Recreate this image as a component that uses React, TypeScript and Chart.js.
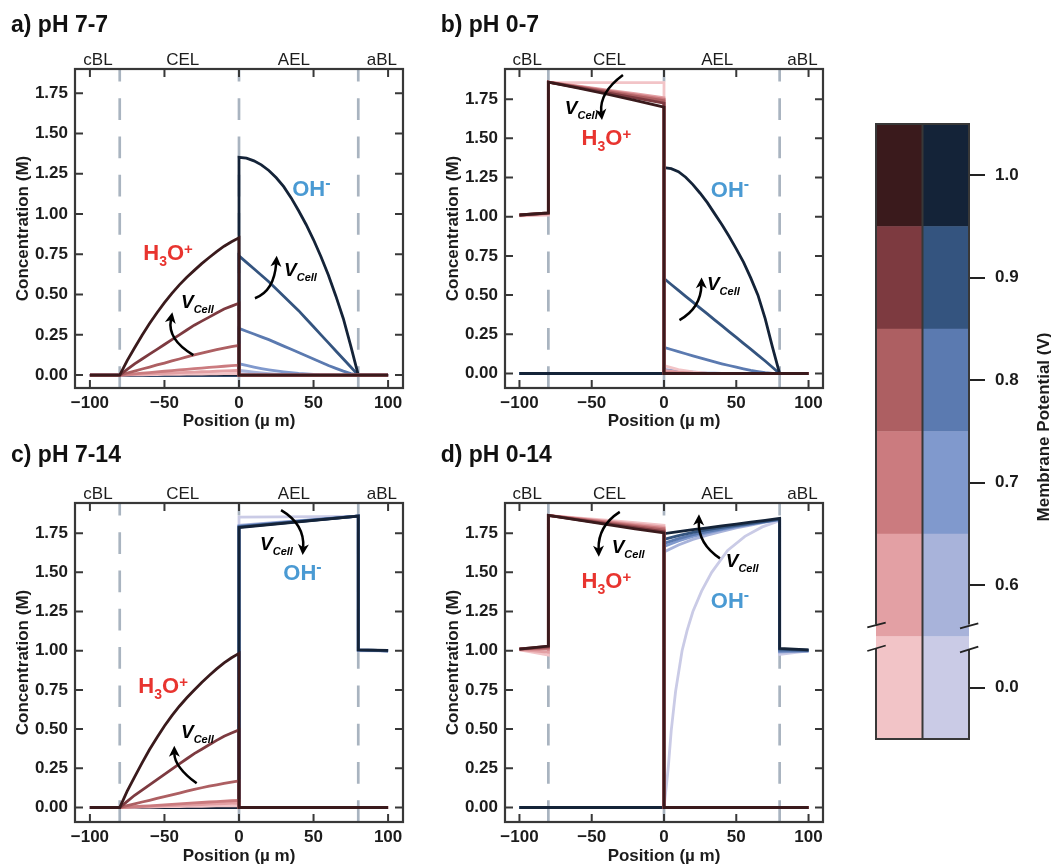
import React, { useEffect, useRef } from 'react';
import { Chart, registerables } from 'chart.js';

Chart.register(...registerables);

const FONT = '"Liberation Sans", Arial, Helvetica, sans-serif';
const INK = '#1c1c1c';
const FRAME = '#383838';
const EDGE_DASH = '#a9b4c0';
const H3O_COLOR = '#e8342f';
const OH_COLOR = '#4a9ad3';

// Membrane potential levels (colour index 0 = lightest)
const V_LABELS = ['0.0', '0.6', '0.7', '0.8', '0.9', '1.0'];
const RED = ['#f2c4c7', '#e3a0a4', '#cb7b7f', '#ad5f62', '#7d3a40', '#3a1a1c'];
const BLUE = ['#cacbe6', '#a8b3da', '#8099cd', '#5b7ab0', '#34547f', '#142338'];
const CB_SPAN = [1, 1];

const X_TICKS = [-100, -50, 0, 50, 100];
const X_TICK_LABELS = ['\u2212100', '\u221250', '0', '50', '100'];
const Y_TICKS = [0, 0.25, 0.5, 0.75, 1, 1.25, 1.5, 1.75];
const Y_TICK_LABELS = ['0.00', '0.25', '0.50', '0.75', '1.00', '1.25', '1.50', '1.75'];
const LAYER_EDGES = [-80, 0, 80];
const LAYER_NAMES = ['cBL', 'CEL', 'AEL', 'aBL'];
const LAYER_NAME_X = [-94.6, -37.7, 36.8, 95.8];

// ---------- a) pH 7-7 ----------
const A_H3O_X = [-100, -80, -75, -70, -65, -60, -55, -50, -45, -40, -35, -30, -25, -20, -15, -10, -5, 0, 0, 100];
const A_H3O = [
  [0, 0, 0.001, 0.001, 0.002, 0.003, 0.003, 0.004, 0.004, 0.005, 0.006, 0.007, 0.007, 0.008, 0.008, 0.009, 0.01, 0.01, 0, 0],
  [0, 0, 0.002, 0.004, 0.006, 0.008, 0.01, 0.011, 0.013, 0.015, 0.017, 0.019, 0.021, 0.022, 0.024, 0.026, 0.028, 0.03, 0, 0],
  [0, 0, 0.004, 0.008, 0.012, 0.016, 0.02, 0.024, 0.028, 0.032, 0.036, 0.04, 0.044, 0.048, 0.051, 0.055, 0.059, 0.062, 0, 0],
  [0, 0, 0.013, 0.025, 0.038, 0.05, 0.063, 0.075, 0.088, 0.1, 0.113, 0.125, 0.137, 0.148, 0.158, 0.168, 0.177, 0.185, 0, 0],
  [0, 0, 0.035, 0.07, 0.1, 0.13, 0.16, 0.19, 0.22, 0.25, 0.28, 0.31, 0.335, 0.36, 0.385, 0.41, 0.428, 0.446, 0, 0],
  [0, 0, 0.09, 0.17, 0.247, 0.32, 0.387, 0.45, 0.507, 0.56, 0.607, 0.65, 0.692, 0.73, 0.767, 0.8, 0.828, 0.852, 0, 0],
];
const A_OH_X = [-100, 0, 0, 5, 10, 15, 20, 25, 30, 35, 40, 45, 50, 55, 60, 65, 70, 75, 80, 100];
const A_OH = [
  [0, 0, 0.01, 0.007, 0.005, 0.003, 0.002, 0.001, 0, 0, 0, 0, 0, 0, 0, 0, 0, 0, 0, 0],
  [0, 0, 0.03, 0.024, 0.018, 0.013, 0.009, 0.006, 0.004, 0.002, 0.001, 0, 0, 0, 0, 0, 0, 0, 0, 0],
  [0, 0, 0.07, 0.06, 0.05, 0.041, 0.033, 0.026, 0.02, 0.015, 0.01, 0.007, 0.004, 0.002, 0.001, 0, 0, 0, 0, 0],
  [0, 0, 0.29, 0.272, 0.255, 0.237, 0.22, 0.2, 0.18, 0.16, 0.14, 0.12, 0.1, 0.08, 0.06, 0.042, 0.025, 0.01, 0, 0],
  [0, 0, 0.74, 0.7, 0.66, 0.62, 0.58, 0.535, 0.49, 0.445, 0.4, 0.35, 0.3, 0.25, 0.2, 0.15, 0.1, 0.05, 0, 0],
  [0, 0, 1.352, 1.347, 1.33, 1.305, 1.27, 1.225, 1.17, 1.1, 1.02, 0.935, 0.84, 0.735, 0.62, 0.49, 0.35, 0.18, 0, 0],
];

// ---------- b) pH 0-7 ----------
const B_H3O_X = [-100, -80, -80, -60, -40, -20, 0, 0, 10, 20, 30, 40, 100];
const B_H3O = [
  [1.005, 1.01, 1.855, 1.855, 1.855, 1.855, 1.855, 0.05, 0.025, 0.01, 0.003, 0, 0],
  [1.008, 1.018, 1.859, 1.834, 1.81, 1.785, 1.76, 0.02, 0.008, 0.002, 0, 0, 0],
  [1.01, 1.022, 1.859, 1.832, 1.805, 1.778, 1.75, 0.005, 0.002, 0, 0, 0, 0],
  [1.011, 1.023, 1.859, 1.829, 1.799, 1.77, 1.74, 0, 0, 0, 0, 0, 0],
  [1.011, 1.024, 1.859, 1.826, 1.792, 1.758, 1.725, 0, 0, 0, 0, 0, 0],
  [1.011, 1.024, 1.859, 1.822, 1.783, 1.743, 1.7, 0, 0, 0, 0, 0, 0],
];
const B_OH_X = [-100, 0, 0, 5, 10, 15, 20, 25, 30, 35, 40, 45, 50, 55, 60, 65, 70, 75, 80, 100];
const B_OH = [
  [0, 0, 0.003, 0.002, 0.001, 0, 0, 0, 0, 0, 0, 0, 0, 0, 0, 0, 0, 0, 0, 0],
  [0, 0, 0.01, 0.007, 0.005, 0.003, 0.002, 0.001, 0, 0, 0, 0, 0, 0, 0, 0, 0, 0, 0, 0],
  [0, 0, 0.025, 0.02, 0.015, 0.011, 0.008, 0.005, 0.003, 0.002, 0.001, 0, 0, 0, 0, 0, 0, 0, 0, 0],
  [0, 0, 0.167, 0.153, 0.14, 0.126, 0.113, 0.1, 0.087, 0.074, 0.062, 0.051, 0.04, 0.03, 0.02, 0.012, 0.005, 0.001, 0, 0],
  [0, 0, 0.606, 0.568, 0.53, 0.492, 0.455, 0.417, 0.38, 0.342, 0.305, 0.267, 0.23, 0.192, 0.155, 0.117, 0.08, 0.04, 0, 0],
  [0, 0, 1.313, 1.307, 1.288, 1.252, 1.205, 1.15, 1.09, 1.02, 0.95, 0.875, 0.795, 0.71, 0.61, 0.5, 0.35, 0.17, 0, 0],
];

// ---------- c) pH 7-14 ----------
const C_H3O_X = [-100, -80, -75, -70, -65, -60, -55, -50, -45, -40, -35, -30, -25, -20, -15, -10, -5, 0, 0, 100];
const C_H3O = [
  [0, 0, 0.001, 0.001, 0.002, 0.003, 0.004, 0.005, 0.005, 0.006, 0.007, 0.008, 0.008, 0.009, 0.01, 0.011, 0.011, 0.012, 0, 0],
  [0, 0, 0.002, 0.004, 0.005, 0.007, 0.009, 0.01, 0.012, 0.014, 0.016, 0.017, 0.019, 0.021, 0.023, 0.025, 0.026, 0.028, 0, 0],
  [0, 0, 0.003, 0.006, 0.008, 0.011, 0.014, 0.017, 0.02, 0.023, 0.026, 0.029, 0.032, 0.035, 0.038, 0.04, 0.043, 0.045, 0, 0],
  [0, 0, 0.012, 0.023, 0.035, 0.046, 0.058, 0.069, 0.081, 0.092, 0.104, 0.115, 0.126, 0.136, 0.145, 0.154, 0.162, 0.17, 0, 0],
  [0, 0, 0.039, 0.078, 0.111, 0.144, 0.178, 0.211, 0.245, 0.278, 0.311, 0.344, 0.372, 0.4, 0.428, 0.455, 0.475, 0.495, 0, 0],
  [0, 0, 0.104, 0.196, 0.285, 0.37, 0.447, 0.52, 0.586, 0.646, 0.7, 0.75, 0.798, 0.842, 0.884, 0.923, 0.955, 0.983, 0, 0],
];
const C_OH_X = [-100, 0, 0, 80, 80, 100];
const C_OH = [
  [0, 0, 1.853, 1.857, 1.0, 1.0],
  [0, 0, 1.8, 1.859, 1.003, 1.0],
  [0, 0, 1.796, 1.859, 1.004, 1.0],
  [0, 0, 1.792, 1.859, 1.005, 1.0],
  [0, 0, 1.789, 1.859, 1.006, 1.0],
  [0, 0, 1.786, 1.859, 1.006, 1.002],
];

// ---------- d) pH 0-14 ----------
const D_H3O_X = [-100, -80, -80, -60, -40, -20, 0, 0, 100];
const D_H3O = [
  [1.005, 0.972, 1.863, 1.848, 1.833, 1.817, 1.8, 0, 0],
  [1.008, 0.99, 1.863, 1.845, 1.826, 1.808, 1.79, 0, 0],
  [1.01, 1.01, 1.863, 1.842, 1.822, 1.8, 1.78, 0, 0],
  [1.011, 1.02, 1.863, 1.84, 1.816, 1.793, 1.77, 0, 0],
  [1.011, 1.027, 1.863, 1.837, 1.811, 1.786, 1.76, 0, 0],
  [1.011, 1.03, 1.863, 1.835, 1.806, 1.778, 1.752, 0, 0],
];
const D_OH_X_LOW = [-100, 0, 2, 3, 5, 8, 12.5, 16, 20, 26, 33, 44, 56, 68, 80, 80, 100];
const D_OH_LOW = [0, 0, 0.17, 0.26, 0.49, 0.74, 1.0, 1.13, 1.25, 1.38, 1.5, 1.64, 1.73, 1.79, 1.83, 0.976, 1.0];
const D_OH_X = [-100, 0, 0, 10, 20, 30, 40, 50, 60, 70, 80, 80, 100];
const D_OH = [
  [0, 0, 1.63, 1.675, 1.71, 1.738, 1.762, 1.783, 1.802, 1.82, 1.835, 0.99, 1.0],
  [0, 0, 1.665, 1.7, 1.73, 1.752, 1.772, 1.79, 1.806, 1.822, 1.836, 0.995, 1.0],
  [0, 0, 1.685, 1.715, 1.74, 1.76, 1.778, 1.795, 1.81, 1.824, 1.838, 1.0, 1.0],
  [0, 0, 1.71, 1.735, 1.755, 1.772, 1.787, 1.8, 1.813, 1.826, 1.84, 1.01, 1.003],
  [0, 0, 1.747, 1.76, 1.772, 1.784, 1.796, 1.808, 1.82, 1.832, 1.844, 1.015, 1.006],
];

type Pt = [number, number];
interface Ann {
  h3o: Pt; oh: Pt; redV: Pt; redArrow: [Pt, Pt, Pt]; blueV: Pt; blueArrow: [Pt, Pt, Pt];
}
interface PanelSpec {
  title: string; left: number; top: number; width: number; height: number;
  yAxisW: number; xAxisH: number; padTop: number; padRight: number;
  yTitlePad: number; xTitlePad: number; yMin: number; yMax: number;
  h3oX: number[][]; h3o: number[][]; ohX: number[][]; oh: number[][];
  titlePos: Pt; ann: Ann;
}

const six = (a: number[]) => [a, a, a, a, a, a];

const PANELS: PanelSpec[] = [
  {
    title: 'a) pH 7-7', left: 0, top: 0, width: 420, height: 436,
    yAxisW: 75, xAxisH: 48, padTop: 69, padRight: 17, yTitlePad: 15, xTitlePad: 5.8,
    yMin: -0.08, yMax: 1.9,
    h3oX: six(A_H3O_X), h3o: A_H3O, ohX: six(A_OH_X), oh: A_OH,
    titlePos: [11, 32],
    ann: {
      h3o: [-64.2, 0.714], oh: [35.7, 1.112],
      redArrow: [[-30.6, 0.124], [-48.2, 0.22], [-44.7, 0.39]], redV: [-38.9, 0.415],
      blueArrow: [[10.7, 0.477], [23.6, 0.522], [25.3, 0.741]], blueV: [30.2, 0.613],
    },
  },
  {
    title: 'b) pH 0-7', left: 420, top: 0, width: 420, height: 436,
    yAxisW: 85, xAxisH: 48, padTop: 69, padRight: 17, yTitlePad: 24.8, xTitlePad: 5.8,
    yMin: -0.0925, yMax: 1.9425,
    h3oX: six(B_H3O_X), h3o: B_H3O, ohX: six(B_OH_X), oh: B_OH,
    titlePos: [20.7, 32],
    ann: {
      h3o: [-57.0, 1.457], oh: [32.4, 1.128],
      redArrow: [[-28.4, 1.904], [-44.8, 1.792], [-42.9, 1.617]], redV: [-68.6, 1.653],
      blueArrow: [[10.7, 0.341], [25.5, 0.418], [26.0, 0.613]], blueV: [29.7, 0.533],
    },
  },
  {
    title: 'c) pH 7-14', left: 0, top: 436, width: 420, height: 430,
    yAxisW: 75, xAxisH: 44, padTop: 67, padRight: 17, yTitlePad: 15, xTitlePad: 0.8,
    yMin: -0.0925, yMax: 1.9425,
    h3oX: six(C_H3O_X), h3o: C_H3O, ohX: six(C_OH_X), oh: C_OH,
    titlePos: [11, 26],
    ann: {
      h3o: [-67.5, 0.728], oh: [29.7, 1.451],
      redArrow: [[-28.4, 0.154], [-43.3, 0.259], [-43.4, 0.394]], redV: [-38.9, 0.441],
      blueArrow: [[28.2, 1.897], [44.1, 1.807], [42.7, 1.61]], blueV: [14.1, 1.642],
    },
  },
  {
    title: 'd) pH 0-14', left: 420, top: 436, width: 420, height: 430,
    yAxisW: 85, xAxisH: 44, padTop: 67, padRight: 17, yTitlePad: 24.8, xTitlePad: 0.8,
    yMin: -0.0925, yMax: 1.9425,
    h3oX: six(D_H3O_X), h3o: D_H3O,
    ohX: [D_OH_X_LOW, D_OH_X, D_OH_X, D_OH_X, D_OH_X, D_OH_X], oh: [D_OH_LOW, ...D_OH],
    titlePos: [20.7, 26],
    ann: {
      h3o: [-57, 1.398], oh: [32.4, 1.27],
      redArrow: [[-30.6, 1.886], [-45.7, 1.796], [-45.1, 1.6]], redV: [-36.2, 1.621],
      blueArrow: [[38.7, 1.589], [23.6, 1.682], [24.2, 1.87]], blueV: [42.7, 1.536],
    },
  },
];

interface Part { t: string; font: string; dy?: number; color?: string }

function drawParts(ctx: CanvasRenderingContext2D, x: number, y: number, parts: Part[], color: string) {
  let cx = x;
  ctx.textBaseline = 'alphabetic';
  ctx.textAlign = 'left';
  for (const p of parts) {
    ctx.font = p.font;
    ctx.fillStyle = p.color || color;
    ctx.fillText(p.t, cx, y + (p.dy || 0));
    cx += ctx.measureText(p.t).width;
  }
}

function drawArrow(ctx: CanvasRenderingContext2D, p0: Pt, c: Pt, p1: Pt) {
  const ang = Math.atan2(p1[1] - c[1], p1[0] - c[0]);
  const L = 11, W = 5.5;
  const cs = Math.cos(ang), sn = Math.sin(ang);
  const bx = p1[0] - cs * L * 0.7, by = p1[1] - sn * L * 0.7;
  ctx.save();
  ctx.strokeStyle = '#000';
  ctx.fillStyle = '#000';
  ctx.lineWidth = 2.5;
  ctx.setLineDash([]);
  ctx.beginPath();
  ctx.moveTo(p0[0], p0[1]);
  ctx.quadraticCurveTo(c[0], c[1], bx, by);
  ctx.stroke();
  ctx.beginPath();
  ctx.moveTo(p1[0], p1[1]);
  ctx.lineTo(p1[0] - cs * L - sn * W, p1[1] - sn * L + cs * W);
  ctx.lineTo(p1[0] - cs * L * 0.72, p1[1] - sn * L * 0.72);
  ctx.lineTo(p1[0] - cs * L + sn * W, p1[1] - sn * L - cs * W);
  ctx.closePath();
  ctx.fill();
  ctx.restore();
}

function panelPlugin(p: PanelSpec) {
  return {
    id: 'panelDeco',
    beforeDatasetsDraw(chart: any) {
      const { ctx, chartArea: ca, scales } = chart;
      const x = scales.x;
      ctx.save();
      ctx.beginPath();
      ctx.rect(ca.left, ca.top, ca.right - ca.left, ca.bottom - ca.top);
      ctx.clip();
      ctx.strokeStyle = EDGE_DASH;
      ctx.lineWidth = 2.7;
      ctx.setLineDash([21.7, 16.6]);
      for (const b of LAYER_EDGES) {
        const px = x.getPixelForValue(b);
        ctx.beginPath();
        ctx.moveTo(px, ca.bottom);
        ctx.lineTo(px, ca.top);
        ctx.stroke();
      }
      ctx.restore();
    },
    afterDatasetsDraw(chart: any) {
      const { ctx, chartArea: ca, scales } = chart;
      const x = scales.x, y = scales.y;
      const P = (pt: Pt): Pt => [x.getPixelForValue(pt[0]), y.getPixelForValue(pt[1])];
      ctx.save();
      ctx.strokeStyle = FRAME;
      ctx.lineWidth = 2.2;
      ctx.setLineDash([]);
      ctx.strokeRect(ca.left, ca.top, ca.right - ca.left, ca.bottom - ca.top);
      ctx.lineWidth = 2;
      const TL = 8;
      ctx.beginPath();
      for (const v of X_TICKS) {
        const px = x.getPixelForValue(v);
        ctx.moveTo(px, ca.bottom); ctx.lineTo(px, ca.bottom - TL);
        ctx.moveTo(px, ca.top); ctx.lineTo(px, ca.top + TL);
      }
      for (const v of Y_TICKS) {
        const py = y.getPixelForValue(v);
        ctx.moveTo(ca.left, py); ctx.lineTo(ca.left + TL, py);
        ctx.moveTo(ca.right, py); ctx.lineTo(ca.right - TL, py);
      }
      ctx.stroke();

      const a = p.ann;
      const bigB = `bold 22px ${FONT}`;
      const smallB = `bold 14px ${FONT}`;
      let q = P(a.h3o);
      drawParts(ctx, q[0], q[1], [
        { t: 'H', font: bigB }, { t: '3', font: smallB, dy: 6 },
        { t: 'O', font: bigB }, { t: '+', font: `bold 15px ${FONT}`, dy: -6 },
      ], H3O_COLOR);
      q = P(a.oh);
      drawParts(ctx, q[0], q[1], [
        { t: 'OH', font: bigB }, { t: '-', font: `bold 16px ${FONT}`, dy: -8 },
      ], OH_COLOR);
      const vParts: Part[] = [
        { t: 'V', font: `italic bold 19px ${FONT}` },
        { t: 'Cell', font: `italic bold 11px ${FONT}`, dy: 5 },
      ];
      q = P(a.redV);
      drawParts(ctx, q[0], q[1], vParts, '#000');
      q = P(a.blueV);
      drawParts(ctx, q[0], q[1], vParts, '#000');
      drawArrow(ctx, P(a.redArrow[0]), P(a.redArrow[1]), P(a.redArrow[2]));
      drawArrow(ctx, P(a.blueArrow[0]), P(a.blueArrow[1]), P(a.blueArrow[2]));
      ctx.restore();
    },
    afterDraw(chart: any) {
      const { ctx, chartArea: ca, scales } = chart;
      const x = scales.x;
      ctx.save();
      ctx.fillStyle = INK;
      ctx.textBaseline = 'alphabetic';
      ctx.textAlign = 'center';
      ctx.font = `17px ${FONT}`;
      LAYER_NAMES.forEach((n, i) => {
        ctx.fillText(n, x.getPixelForValue(LAYER_NAME_X[i]), ca.top - 4.5);
      });
      ctx.textAlign = 'left';
      ctx.font = `bold 23px ${FONT}`;
      ctx.fillStyle = '#111';
      ctx.fillText(p.title, p.titlePos[0], p.titlePos[1]);
      ctx.restore();
    },
  };
}

function buildPanelConfig(p: PanelSpec): any {
  const common = {
    borderWidth: 2.8, pointRadius: 0, pointHoverRadius: 0, fill: false, tension: 0,
    borderJoinStyle: 'miter', borderCapStyle: 'butt',
  };
  const datasets: any[] = [];
  for (let i = 0; i < 6; i++) {
    datasets.push({
      ...common,
      label: `OH- ${V_LABELS[i]} V`,
      data: p.ohX[i].map((xv, k) => ({ x: xv, y: p.oh[i][k] })),
      borderColor: BLUE[i],
      order: 11 - i,
    });
  }
  for (let i = 0; i < 6; i++) {
    datasets.push({
      ...common,
      label: `H3O+ ${V_LABELS[i]} V`,
      data: p.h3oX[i].map((xv, k) => ({ x: xv, y: p.h3o[i][k] })),
      borderColor: RED[i],
      order: 5 - i,
    });
  }
  const tickFont = { family: FONT, size: 17, weight: 'bold' };
  return {
    type: 'line',
    data: { datasets },
    options: {
      responsive: false,
      animation: false,
      devicePixelRatio: 1,
      events: [],
      layout: { padding: { left: 0, right: p.padRight, top: p.padTop, bottom: 0 } },
      plugins: { legend: { display: false }, tooltip: { enabled: false } },
      scales: {
        x: {
          type: 'linear', min: -110, max: 110,
          afterBuildTicks: (s: any) => { s.ticks = X_TICKS.map((v) => ({ value: v })); },
          afterFit: (s: any) => { s.height = p.xAxisH; },
          grid: { display: false, drawTicks: false },
          border: { display: false },
          ticks: {
            callback: (_v: any, i: number) => X_TICK_LABELS[i],
            font: tickFont, color: INK, padding: 5, maxRotation: 0, autoSkip: false,
          },
          title: {
            display: true, text: 'Position (\u00b5 m)', color: INK,
            font: { family: FONT, size: 17, weight: 'bold', lineHeight: 1 },
            padding: { top: 0, bottom: p.xTitlePad },
          },
        },
        y: {
          type: 'linear', min: p.yMin, max: p.yMax,
          afterBuildTicks: (s: any) => { s.ticks = Y_TICKS.map((v) => ({ value: v })); },
          afterFit: (s: any) => { s.width = p.yAxisW; },
          grid: { display: false, drawTicks: false },
          border: { display: false },
          ticks: {
            callback: (_v: any, i: number) => Y_TICK_LABELS[i],
            font: tickFont, color: INK, padding: 7, autoSkip: false,
          },
          title: {
            display: true, text: 'Concentration (M)', color: INK,
            font: { family: FONT, size: 17, weight: 'bold', lineHeight: 1 },
            padding: { top: p.yTitlePad, bottom: 0 },
          },
        },
      },
    },
    plugins: [panelPlugin(p)],
  };
}

const colorbarPlugin = {
  id: 'cbDeco',
  afterDraw(chart: any) {
    const { ctx, chartArea: ca } = chart;
    const L = ca.left, R = ca.right, T = ca.top, B = ca.bottom;
    const mid = (L + R) / 2;
    const g1 = 624.5, g2 = 649;
    ctx.save();
    ctx.strokeStyle = FRAME;
    ctx.lineWidth = 2;
    ctx.beginPath();
    ctx.moveTo(L, g1); ctx.lineTo(L, T); ctx.lineTo(R, T); ctx.lineTo(R, g1);
    ctx.moveTo(L, g2); ctx.lineTo(L, B); ctx.lineTo(R, B); ctx.lineTo(R, g2);
    ctx.moveTo(mid, T); ctx.lineTo(mid, B);
    ctx.stroke();
    ctx.lineWidth = 1.8;
    ctx.strokeStyle = '#222';
    ctx.beginPath();
    const marks: [number, number, number, number][] = [
      [867.3, 627.3, 885.7, 622.7], [867.3, 651, 885.7, 645.5],
      [960, 628.3, 978.3, 623.3], [960, 652.3, 978.3, 646.7],
    ];
    for (const m of marks) {
      ctx.moveTo(m[0] - 840, m[1]); ctx.lineTo(m[2] - 840, m[3]);
    }
    ctx.stroke();
    ctx.translate(204, 427);
    ctx.rotate(-Math.PI / 2);
    ctx.fillStyle = INK;
    ctx.font = `bold 17px ${FONT}`;
    ctx.textAlign = 'center';
    ctx.textBaseline = 'middle';
    ctx.fillText('Membrane Potential (V)', 0, 0);
    ctx.restore();
  },
};

function buildColorbarConfig(): any {
  return {
    type: 'bar',
    data: {
      labels: ['H3O+', 'OH-'],
      datasets: V_LABELS.map((v, i) => ({
        label: `${v} V`,
        data: CB_SPAN,
        backgroundColor: [RED[i], BLUE[i]],
        borderWidth: 0,
        barPercentage: 1,
        categoryPercentage: 1,
      })),
    },
    options: {
      responsive: false,
      animation: false,
      devicePixelRatio: 1,
      events: [],
      layout: { padding: { left: 36, right: 0, top: 124, bottom: 127 } },
      plugins: { legend: { display: false }, tooltip: { enabled: false } },
      scales: {
        x: { display: false, stacked: true },
        y: {
          stacked: true, position: 'right', min: 0, max: 6,
          afterBuildTicks: (s: any) => { s.ticks = V_LABELS.map((_, i) => ({ value: i + 0.5 })); },
          afterFit: (s: any) => { s.width = 82; },
          grid: {
            display: true, drawOnChartArea: false, drawTicks: true,
            tickLength: 16, tickWidth: 2, tickColor: '#222', lineWidth: 2, color: '#222',
          },
          border: { display: false },
          ticks: {
            callback: (_v: any, i: number) => V_LABELS[i],
            font: { family: FONT, size: 17, weight: 'bold' }, color: INK, padding: 10, autoSkip: false,
          },
        },
      },
    },
    plugins: [colorbarPlugin],
  };
}

export default function App() {
  const refs = useRef<(HTMLCanvasElement | null)[]>([]);
  const cbRef = useRef<HTMLCanvasElement | null>(null);

  useEffect(() => {
    const charts: Chart[] = [];
    PANELS.forEach((p, i) => {
      const c = refs.current[i];
      if (c) charts.push(new Chart(c, buildPanelConfig(p)));
    });
    if (cbRef.current) charts.push(new Chart(cbRef.current, buildColorbarConfig()));
    return () => { charts.forEach((c) => c.destroy()); };
  }, []);

  return (
    <div style={{ position: 'fixed', left: 0, top: 0, width: 1051, height: 866, background: '#fff', overflow: 'hidden' }}>
      {PANELS.map((p, i) => (
        <canvas
          key={i}
          ref={(el) => { refs.current[i] = el; }}
          width={p.width}
          height={p.height}
          style={{ position: 'absolute', left: p.left, top: p.top, width: p.width, height: p.height }}
        />
      ))}
      <canvas
        ref={cbRef}
        width={211}
        height={866}
        style={{ position: 'absolute', left: 840, top: 0, width: 211, height: 866 }}
      />
    </div>
  );
}
